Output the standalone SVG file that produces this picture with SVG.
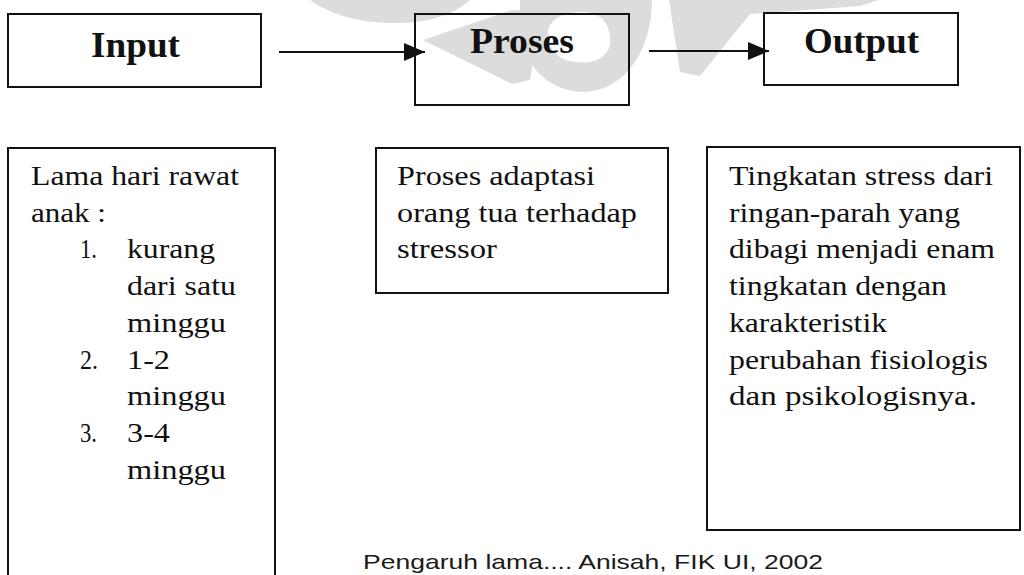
<svg xmlns="http://www.w3.org/2000/svg" width="1024" height="575" viewBox="0 0 1024 575">
  <style>
    .box { fill: none; stroke: #111; stroke-width: 2; }
    .head { font-family: "Liberation Serif", "Times New Roman", serif; font-size: 35px; fill: #111; }
    .body { font-family: "Liberation Serif", "Times New Roman", serif; font-size: 26.5px; fill: #111; }
    .foot { font-family: "Liberation Sans", Arial, sans-serif; font-size: 21px; fill: #1a1a1a; }
    .wm { fill: #dcdcdc; }
    .conn { stroke: #111; stroke-width: 2.2; fill: none; }
  </style>
  <defs>
    <marker id="arrow" markerWidth="22" markerHeight="20" refX="21" refY="10" orient="auto" markerUnits="userSpaceOnUse">
      <path d="M0,1 L21,10 L0,19 Z" fill="#111"/>
    </marker>
  </defs>
  <rect width="1024" height="575" fill="#ffffff"/>

  <g id="watermark">
    <path class="wm" d="M310,0 L470,0 C450,18 420,24 390,23 C355,22 330,14 310,0 Z"/>
    <path class="wm" d="M423,40 L512,10 L540,12 L530,80 L512,84 Z"/>
    <path class="wm" fill-rule="evenodd" d="M520,0 L652,0 C652,50 625,90 585,92 C545,92 520,60 520,25 Z M583,12 C605,12 612,30 610,45 C606,60 592,64 575,62 C555,60 546,45 548,30 C552,17 566,12 583,12 Z"/>
    <path class="wm" d="M669,0 L879,0 L860,6 L750,14 L700,76 L680,72 Z"/>
  </g>

  <g id="connectors">
    <line class="conn" x1="279" y1="52" x2="425" y2="52" marker-end="url(#arrow)"/>
    <line class="conn" x1="649" y1="51" x2="769" y2="51" marker-end="url(#arrow)"/>
  </g>

  <g id="input">
    <rect class="box" x="8" y="14" width="253" height="73"/>
    <text class="head" x="91" y="57" font-weight="bold" textLength="89" lengthAdjust="spacingAndGlyphs">Input</text>
  </g>

  <g id="proses">
    <rect class="box" x="415" y="14" width="214" height="91"/>
    <text class="head" x="470" y="53" font-weight="bold" textLength="104" lengthAdjust="spacingAndGlyphs">Proses</text>
  </g>

  <g id="output">
    <rect class="box" x="764" y="13" width="194" height="72"/>
    <text class="head" x="804" y="53" font-weight="bold" textLength="115" lengthAdjust="spacingAndGlyphs">Output</text>
  </g>

  <g id="input-detail">
    <rect class="box" x="8" y="148" width="267" height="440"/>
    <text class="body" x="31" y="185" textLength="208" lengthAdjust="spacingAndGlyphs">Lama hari rawat</text>
    <text class="body" x="31" y="221.7" textLength="75" lengthAdjust="spacingAndGlyphs">anak :</text>
    <text class="body" x="80" y="258.4" textLength="17" lengthAdjust="spacingAndGlyphs">1.</text>
    <text class="body" x="127" y="258.4" textLength="88" lengthAdjust="spacingAndGlyphs">kurang</text>
    <text class="body" x="127" y="295.1" textLength="109" lengthAdjust="spacingAndGlyphs">dari satu</text>
    <text class="body" x="127" y="331.8" textLength="99" lengthAdjust="spacingAndGlyphs">minggu</text>
    <text class="body" x="80" y="368.5" textLength="18" lengthAdjust="spacingAndGlyphs">2.</text>
    <text class="body" x="127" y="368.5" textLength="43" lengthAdjust="spacingAndGlyphs">1-2</text>
    <text class="body" x="127" y="405.2" textLength="99" lengthAdjust="spacingAndGlyphs">minggu</text>
    <text class="body" x="80" y="441.9" textLength="17" lengthAdjust="spacingAndGlyphs">3.</text>
    <text class="body" x="127" y="441.9" textLength="43" lengthAdjust="spacingAndGlyphs">3-4</text>
    <text class="body" x="127" y="478.6" textLength="99" lengthAdjust="spacingAndGlyphs">minggu</text>
  </g>

  <g id="proses-detail">
    <rect class="box" x="376" y="148" width="292" height="145"/>
    <text class="body" x="397" y="185" textLength="198" lengthAdjust="spacingAndGlyphs">Proses adaptasi</text>
    <text class="body" x="397" y="221.7" textLength="240" lengthAdjust="spacingAndGlyphs">orang tua terhadap</text>
    <text class="body" x="397" y="258.4" textLength="100" lengthAdjust="spacingAndGlyphs">stressor</text>
  </g>

  <g id="output-detail">
    <rect class="box" x="707" y="147" width="313" height="383"/>
    <text class="body" x="729" y="185" textLength="264" lengthAdjust="spacingAndGlyphs">Tingkatan stress dari</text>
    <text class="body" x="729" y="221.7" textLength="231" lengthAdjust="spacingAndGlyphs">ringan-parah yang</text>
    <text class="body" x="729" y="258.4" textLength="266" lengthAdjust="spacingAndGlyphs">dibagi menjadi enam</text>
    <text class="body" x="729" y="295.1" textLength="218" lengthAdjust="spacingAndGlyphs">tingkatan dengan</text>
    <text class="body" x="729" y="331.8" textLength="158" lengthAdjust="spacingAndGlyphs">karakteristik</text>
    <text class="body" x="729" y="368.5" textLength="259" lengthAdjust="spacingAndGlyphs">perubahan fisiologis</text>
    <text class="body" x="729" y="405.2" textLength="248" lengthAdjust="spacingAndGlyphs">dan psikologisnya.</text>
  </g>

  <g id="footer">
    <text class="foot" x="363" y="569" textLength="460" lengthAdjust="spacingAndGlyphs">Pengaruh lama.... Anisah, FIK UI, 2002</text>
  </g>
</svg>
